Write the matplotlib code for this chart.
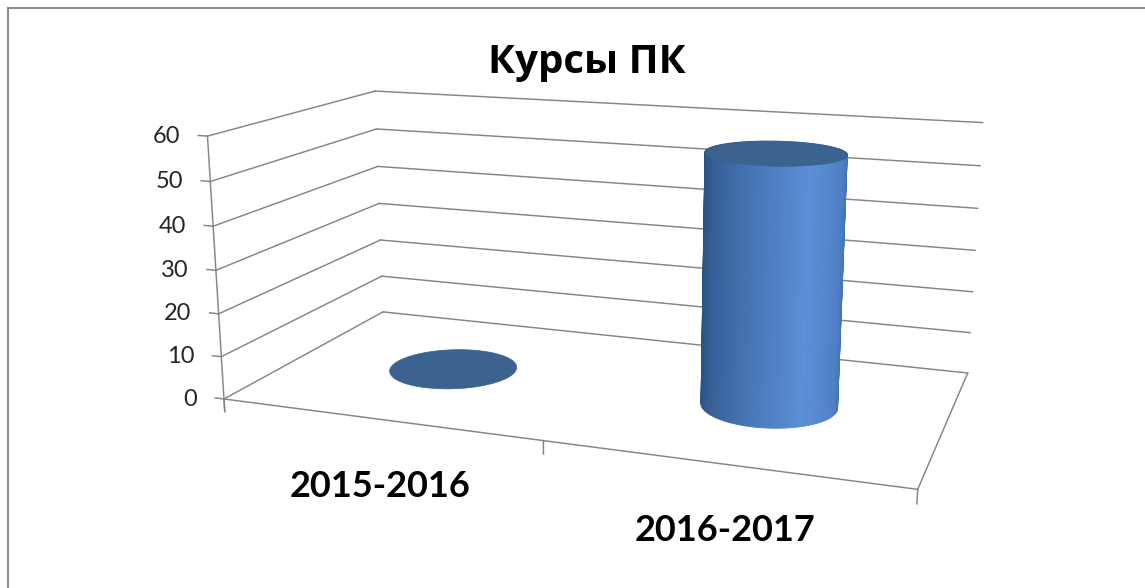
import numpy as np
import matplotlib
matplotlib.use('Agg')
import matplotlib.pyplot as plt
from mpl_toolkits.mplot3d.art3d import Poly3DCollection
from mpl_toolkits.mplot3d import proj3d
from matplotlib.lines import Line2D

# ---- data ----
title = "Курсы ПК"
categories = ["2015-2016", "2016-2017"]
values = [0, 57]
value_ticks = [0, 10, 20, 30, 40, 50, 60]

# ---- styling ----
GRID_C = "#858585"
TOP_C = "#3c6290"
FONT = ["Lato", "Open Sans", "DejaVu Sans"]
TFONT = ["Open Sans", "DejaVu Sans"]

W, D, H = 2.5932, 1.2707, 1.0          # box aspect (width, depth, height)
ELEV, AZIM = 14.0, -70.12
FOCAL, ZOOM = 0.4868, 1.3332

xmin, xmax = -0.5, len(categories) - 0.5
ymin, ymax = 0.0, 1.0
zmin, zmax = value_ticks[0], value_ticks[-1]

fig = plt.figure(figsize=(11.45, 5.88), dpi=100)
ax = fig.add_axes([0.0217, 0.0442, 1.0, 1.0], projection='3d',
                  computed_zorder=False)
ax.set_proj_type('persp', focal_length=FOCAL)
ax.view_init(elev=ELEV, azim=AZIM)
ax.set_axis_off()

kw = dict(color=GRID_C, lw=1.05, zorder=1, clip_on=False)
for z in value_ticks:
    ax.plot([xmin, xmin], [ymin, ymax], [z, z], **kw)
    ax.plot([xmin, xmax], [ymax, ymax], [z, z], **kw)
    ax.plot([xmin - 0.03, xmin], [ymin, ymin], [z, z], **kw)

ax.plot([xmin, xmax], [ymin, ymin], [0, 0], **kw)
ax.plot([xmax, xmax], [ymin, ymax], [0, 0], **kw)
ax.plot([xmin, xmin], [ymin, ymin], [-3, zmax], **kw)
for xb in np.arange(xmin, xmax + 0.01, 1.0):
    ax.plot([xb, xb], [ymin, ymin], [0, -3], **kw)

# cylinders (circular in physical box space)
rx = 0.195
ry = rx * (W / (xmax - xmin)) / (D / (ymax - ymin))
cy = 0.5
n = 120
theta = np.linspace(0, 2 * np.pi, n + 1)
azim_rad = np.deg2rad(AZIM)
stops_a = np.array([-90, -40, 20, 60, 90])
stops_c = np.array([[0.17, 0.31, 0.50],
                    [0.25, 0.42, 0.66],
                    [0.36, 0.56, 0.84],
                    [0.31, 0.50, 0.77],
                    [0.23, 0.41, 0.65]])


def side_color(th):
    a = np.rad2deg(np.angle(np.exp(1j * (th - azim_rad))))
    a = np.clip(a, -90, 90)
    return [np.interp(a, stops_a, stops_c[:, k]) for k in range(3)]


for i, v in enumerate(values):
    xs = i + rx * np.cos(theta)
    ys = cy + ry * np.sin(theta)
    if v > 0:
        verts, cols = [], []
        for k in range(n):
            verts.append([(xs[k], ys[k], 0), (xs[k + 1], ys[k + 1], 0),
                          (xs[k + 1], ys[k + 1], v), (xs[k], ys[k], v)])
            cols.append(side_color(0.5 * (theta[k] + theta[k + 1])))
        side = Poly3DCollection(verts, facecolors=cols, edgecolors=cols,
                                linewidths=0.6, zorder=5)
        side.set_clip_on(False)
        ax.add_collection3d(side)
    top = Poly3DCollection([list(zip(xs, ys, np.full_like(xs, v)))],
                           facecolors=TOP_C, edgecolors=TOP_C, linewidths=0.5,
                           zorder=6)
    top.set_clip_on(False)
    ax.add_collection3d(top)

ax.set_xlim(xmin, xmax)
ax.set_ylim(ymin, ymax)
ax.set_zlim(zmin, zmax)
ax.set_box_aspect((W, D, H), zoom=ZOOM)

fig.canvas.draw()


def to_px(x, y, z):
    px, py, _ = proj3d.proj_transform(x, y, z, ax.get_proj())
    return ax.transData.transform((px, py))


FW, FH = fig.bbox.width, fig.bbox.height

# value-axis labels: left of the tick marks
for z in value_ticks:
    dx, dy = to_px(xmin, ymin, z)
    fig.text((dx - 27) / FW, dy / FH, str(z), ha='right', va='center',
             fontsize=17, color='#262626', family=FONT)

# category labels: below the category centre on the front floor edge
for i, cat in enumerate(categories):
    dx, dy = to_px(i, ymin, 0)
    fig.text((dx + 2) / FW, (dy - 67) / FH, cat, ha='center', va='center',
             fontsize=26, fontweight='bold', color='black', family=FONT)

fig.text(587 / 1145, 1 - 62 / 588, title, ha='center', va='center',
         fontsize=29, fontweight='bold', family=TFONT)

# outer chart border
fig.add_artist(Line2D([8 / 1145, 8 / 1145], [0, 1 - 8 / 588],
                      transform=fig.transFigure, color='#8c8c8c', lw=1.5))
fig.add_artist(Line2D([8 / 1145, 1], [1 - 8 / 588, 1 - 8 / 588],
                      transform=fig.transFigure, color='#8c8c8c', lw=1.5))

fig.savefig('out.png', dpi=100)
